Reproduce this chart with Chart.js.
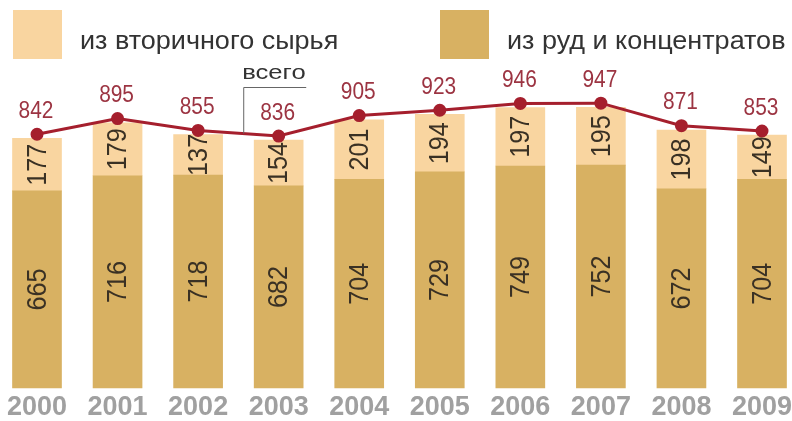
<!DOCTYPE html>
<html>
<head>
<meta charset="utf-8">
<script src="https://cdn.jsdelivr.net/npm/chart.js@4"></script>
<style>
  html, body { margin: 0; padding: 0; background: #fff; }
  #wrap { width: 792px; height: 421px; position: relative; }
</style>
</head>
<body>
<div id="wrap"><canvas id="c" width="792" height="421"></canvas></div>
<script>
const YEARS     = ["2000","2001","2002","2003","2004","2005","2006","2007","2008","2009"];
const FROM_ORE  = [665, 716, 718, 682, 704, 729, 749, 752, 672, 704];
const SECONDARY = [177, 179, 137, 154, 201, 194, 197, 195, 198, 149];
const TOTAL     = [842, 895, 855, 836, 905, 923, 946, 947, 871, 853];

const LEGEND_ITEMS = [
  { text: "из вторичного сырья",    color: "#f9d5a0", x: 13 },
  { text: "из руд и концентратов",  color: "#d8b162", x: 440 },
];

const FONT = "'Liberation Sans', Arial, sans-serif";
const LINE_RED = "#a51f2d";

// text squeezed/stretched along its own direction
function drawScaled(ctx, str, x, y, sx) {
  ctx.save();
  ctx.translate(x, y);
  ctx.scale(sx, 1);
  ctx.fillText(str, 0, 0);
  ctx.restore();
}

// legend squares + captions at the top
const legendPlugin = {
  id: "topLegend",
  afterDraw(chart) {
    const ctx = chart.ctx;
    ctx.save();
    ctx.font = "25px " + FONT;
    ctx.textBaseline = "middle";
    LEGEND_ITEMS.forEach((it) => {
      ctx.fillStyle = it.color;
      ctx.fillRect(it.x, 10, 49, 49);
      ctx.fillStyle = "#333";
      drawScaled(ctx, it.text, it.x + 67, 42, 1.08);
    });
    ctx.restore();
  },
};

// rotated value labels inside each bar segment
const barLabels = {
  id: "barLabels",
  afterDatasetsDraw(chart) {
    const ctx = chart.ctx;
    ctx.save();
    ctx.font = "28px " + FONT;
    ctx.fillStyle = "#3a3124";
    ctx.textAlign = "center";
    ctx.textBaseline = "middle";
    chart.data.datasets.forEach((ds, di) => {
      if (ds.type === "line") return;
      chart.getDatasetMeta(di).data.forEach((bar, i) => {
        const { x, y, base } = bar.getProps(["x", "y", "base"], true);
        ctx.save();
        ctx.translate(x + 1, (y + base) / 2);
        ctx.rotate(-Math.PI / 2);
        ctx.scale(0.9, 1);
        ctx.fillText(String(ds.data[i]), 0, 0);
        ctx.restore();
      });
    });
    ctx.restore();
  },
};

// totals above the line points and the "всего" pointer
const totalLabels = {
  id: "totalLabels",
  afterDatasetsDraw(chart) {
    const ctx = chart.ctx;
    const idx = chart.data.datasets.findIndex((d) => d.type === "line");
    const pts = chart.getDatasetMeta(idx).data;
    ctx.save();
    ctx.font = "24px " + FONT;
    ctx.fillStyle = "#9c3442";
    ctx.textAlign = "center";
    ctx.textBaseline = "middle";
    pts.forEach((p, i) => drawScaled(ctx, String(TOTAL[i]), p.x - 1, p.y - 23, 0.87));

    // pointer from the caption down to the 2002-2003 segment
    const a = pts[2], b = pts[3];
    const px = a.x + (b.x - a.x) * 0.56;
    const py = a.y + (b.y - a.y) * 0.56;
    ctx.strokeStyle = "#666";
    ctx.lineWidth = 1;
    ctx.beginPath();
    ctx.moveTo(px + 0.5, py);
    ctx.lineTo(px + 0.5, 87.5);
    ctx.lineTo(px + 63, 87.5);
    ctx.stroke();
    ctx.fillStyle = "#333";
    ctx.font = "21px " + FONT;
    ctx.textAlign = "left";
    drawScaled(ctx, "всего", px - 1, 73, 1.22);
    ctx.restore();
  },
};

new Chart(document.getElementById("c"), {
  type: "bar",
  data: {
    labels: YEARS,
    datasets: [
      {
        type: "line",
        label: "всего",
        data: TOTAL,
        yAxisID: "y2",
        borderColor: LINE_RED,
        backgroundColor: LINE_RED,
        borderWidth: 3,
        pointRadius: 5,
        pointHoverRadius: 5,
        tension: 0,
        clip: false,
        order: 0,
      },
      {
        label: LEGEND_ITEMS[1].text,
        data: FROM_ORE,
        backgroundColor: LEGEND_ITEMS[1].color,
        barThickness: 49,
        stack: "s",
        clip: false,
        order: 1,
      },
      {
        label: LEGEND_ITEMS[0].text,
        data: SECONDARY,
        backgroundColor: LEGEND_ITEMS[0].color,
        barThickness: 49,
        stack: "s",
        clip: false,
        order: 1,
      },
    ],
  },
  options: {
    responsive: false,
    animation: false,
    layout: { autoPadding: false, padding: { left: 37, right: 30, top: 0, bottom: -6 } },
    plugins: { legend: { display: false }, tooltip: { enabled: false } },
    scales: {
      x: {
        offset: false,
        stacked: true,
        grid: { display: false, drawTicks: false },
        border: { display: false },
        ticks: {
          color: "#a0a0a0",
          font: { family: FONT, size: 27, weight: "bold", lineHeight: 1 },
          padding: 6,
          maxRotation: 0,
          autoSkip: false,
        },
        // year labels may overhang the plot edges
        afterFit: (scale) => { scale.paddingLeft = 0; scale.paddingRight = 0; },
      },
      y: { display: false, stacked: true, min: 0, max: 1309 },
      y2: { display: false, min: -14, max: 1295 },
    },
  },
  plugins: [legendPlugin, barLabels, totalLabels],
});
</script>
</body>
</html>
